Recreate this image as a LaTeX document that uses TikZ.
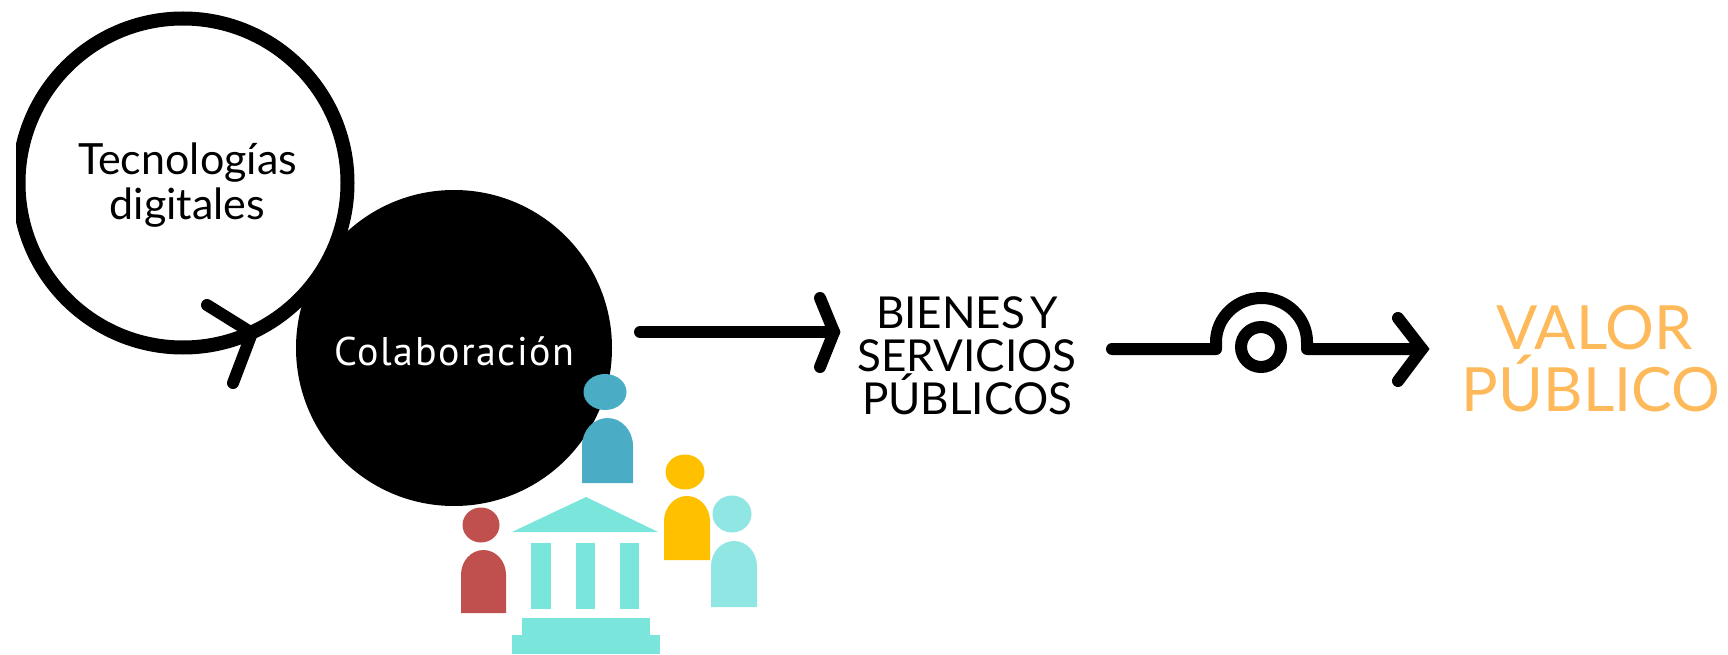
\documentclass[tikz,border=0pt]{standalone}
\usepackage{fontspec}
\setmainfont{Lato}
\newfontfamily\dinfont{PT Sans}
\usetikzlibrary{arrows.meta}
\definecolor{pblue}{HTML}{4BACC6}
\definecolor{pyellow}{HTML}{FFC000}
\definecolor{pred}{HTML}{C0504D}
\definecolor{pteal}{HTML}{90E6E2}
\definecolor{bteal}{HTML}{7AE5DB}
\definecolor{vgold}{HTML}{FDB95A}
\tikzset{
  ring/.style={circle,draw=black,line width=14pt,fill=white,inner sep=0pt,minimum size=329pt},
  disc/.style={circle,fill=black,inner sep=0pt,minimum size=316pt},
  lbl/.style={align=center,inner sep=0pt,text=black},
  conn/.style={line width=12pt,line cap=round,line join=round,draw=black},
  barb/.style={line width=12pt,line cap=round,line join=miter,draw=black}
}
\newcommand{\mkperson}[9]{%
  \fill[#9] (#1,#4) -- (#1,{#3+(#2-#1)*0.55}) arc[start angle=180,end angle=360,x radius={(#2-#1)/2},y radius={(#2-#1)*0.55}] -- (#2,#4) -- cycle;
  \fill[#9] (#5,#6) ellipse[x radius=#7,y radius=#8];
}
\begin{document}
\begin{tikzpicture}[x=1pt,y=-1pt]
\useasboundingbox (0,0) rectangle (1728,655);
% circles
\node[ring] (tec) at (183,183) {};
\fill[white] (0,0) rectangle (15.5,400);
\node[disc] (col) at (454,348) {};
% arrow head on the ring
\coordinate (ct) at (252,333);
\coordinate (ca) at (207,305);
\coordinate (cb) at (233,383);
\draw[barb] (ca) -- (ct) -- (cb);
% labels
\node[lbl,font=\fontsize{43}{45}\selectfont] (tecl) at (187.5,185) {Tecnologías\\digitales};
\node[lbl,font=\dinfont\fontsize{40}{42}\selectfont,text=white,anchor=base] (coll) at (454.5,365) {\addfontfeature{LetterSpace=4}Colaboración};
\node[lbl,font=\fontsize{44}{43}\selectfont] (bie) at (967,356) {BIENES\kern-6pt\ Y\\SERVICIOS\\PÚBLICOS};
\node[lbl,font=\fontsize{61}{62}\selectfont,text=vgold] (val) at (1591,359) {\kern7pt VALOR\\PÚBLICO};
% arrow 1
\coordinate (a1s) at (640,332);
\coordinate (a1t) at (834,332);
\coordinate (a1u) at (820,298);
\coordinate (a1d) at (820,367);
\draw[conn] (a1s) -- (a1t);
\draw[barb] (a1u) -- (a1t) -- (a1d);
% arrow 2 with hump
\coordinate (a2s) at (1112,349);
\coordinate (a2t) at (1422,349);
\coordinate (a2u) at (1398,318);
\coordinate (a2d) at (1398,381);
\node[circle,draw=black,line width=12pt,inner sep=0pt,minimum size=40pt] (gate) at (1261,347) {};
\draw[conn] (a2s) -- (1216,349) -- (1216,342)
  arc[start angle=180,end angle=360,x radius=45.5,y radius=44]
  -- (1307,349) -- (a2t);
\draw[barb] (a2u) -- (a2t) -- (a2d);
% people
\mkperson{582}{633}{418}{483}{605}{392}{21.5}{18}{pblue}
\mkperson{664}{710}{496}{560}{685}{472}{19.5}{17.5}{pyellow}
\mkperson{711}{757}{541}{607}{732}{514}{19.5}{18.5}{pteal}
\mkperson{461}{506}{550}{613}{481}{525}{18.5}{17.5}{pred}
% building
\fill[bteal] (586,497) -- (658,532) -- (512,532) -- cycle;
\fill[bteal] (531,543) rectangle (551,609);
\fill[bteal] (576,543) rectangle (595,609);
\fill[bteal] (620,543) rectangle (639,609);
\fill[bteal] (522,618) rectangle (650,636);
\fill[bteal] (512,635) rectangle (660,654);
\end{tikzpicture}
\end{document}
